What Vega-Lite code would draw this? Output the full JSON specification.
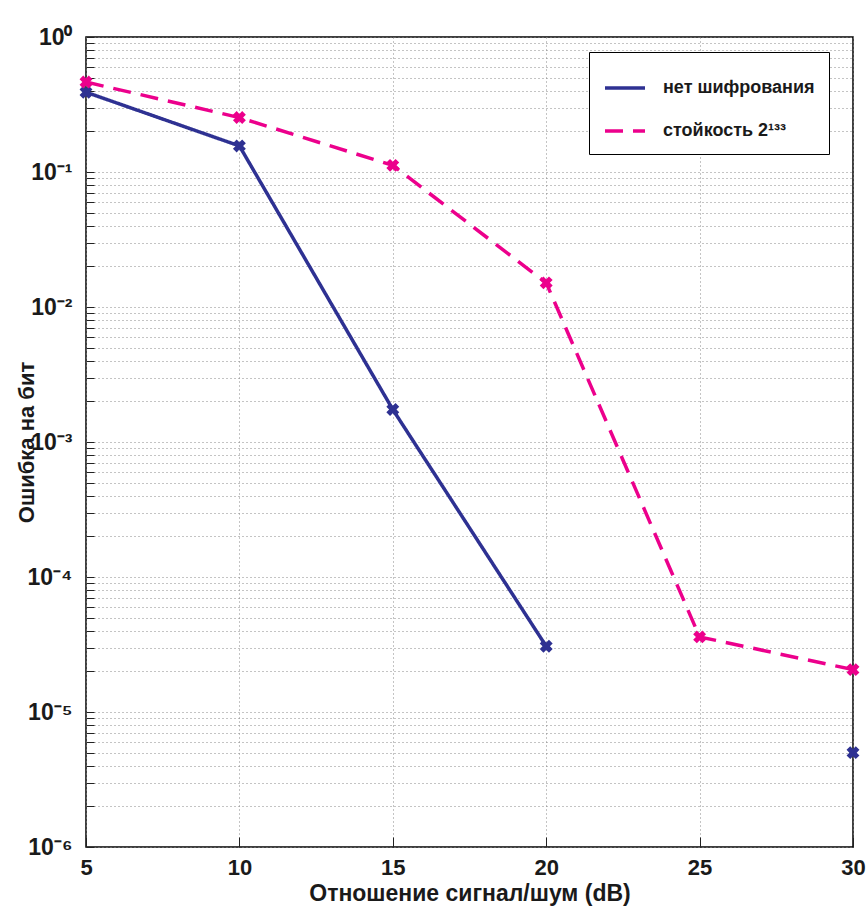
{
  "$schema": "https://vega.github.io/schema/vega-lite/v6.json",
  "width": 767,
  "height": 810,
  "autosize": {"type": "none"},
  "padding": {"left": 86, "top": 37, "right": 15, "bottom": 74},
  "background": "white",
  "config": {
    "view": {"stroke": "black", "strokeWidth": 1.5},
    "font": "Liberation Sans, Arial, sans-serif"
  },
  "data": {
    "values": [
      {"snr": 5, "ber": 0.39, "series": "нет шифрования"},
      {"snr": 10, "ber": 0.156, "series": "нет шифрования"},
      {"snr": 15, "ber": 0.00174, "series": "нет шифрования"},
      {"snr": 20, "ber": 0.0000307, "series": "нет шифрования"},
      {"snr": 25, "ber": null, "series": "нет шифрования"},
      {"snr": 30, "ber": 0.000005, "series": "нет шифрования"},
      {"snr": 5, "ber": 0.464, "series": "стойкость 2¹³³"},
      {"snr": 10, "ber": 0.253, "series": "стойкость 2¹³³"},
      {"snr": 15, "ber": 0.112, "series": "стойкость 2¹³³"},
      {"snr": 20, "ber": 0.0151, "series": "стойкость 2¹³³"},
      {"snr": 25, "ber": 0.000036, "series": "стойкость 2¹³³"},
      {"snr": 30, "ber": 0.0000206, "series": "стойкость 2¹³³"}
    ]
  },
  "encoding": {
    "x": {
      "field": "snr", "type": "quantitative",
      "scale": {"domain": [5, 30], "nice": false, "zero": false},
      "axis": {
        "values": [5, 10, 15, 20, 25, 30],
        "title": "Отношение сигнал/шум (dB)",
        "titleFontSize": 23, "titleFontWeight": "bold", "titleColor": "#1a1a1a",
        "titlePadding": 4,
        "labelFontSize": 22, "labelFontWeight": "bold", "labelColor": "#1a1a1a",
        "labelPadding": 20,
        "labelFlush": false,
        "domain": false,
        "ticks": true, "tickSize": -10, "tickColor": "#222", "tickWidth": 1,
        "grid": true, "gridColor": "#888", "gridDash": [1, 3], "gridWidth": 1
      }
    },
    "y": {
      "field": "ber", "type": "quantitative",
      "scale": {"type": "log", "domain": [0.000001, 1], "nice": false},
      "axis": {
        "values": [0.000001,0.000002,0.000003,0.000004,0.000005,0.000006,0.000007,0.000008,0.000009,
                   0.00001,0.00002,0.00003,0.00004,0.00005,0.00006,0.00007,0.00008,0.00009,
                   0.0001,0.0002,0.0003,0.0004,0.0005,0.0006,0.0007,0.0008,0.0009,
                   0.001,0.002,0.003,0.004,0.005,0.006,0.007,0.008,0.009,
                   0.01,0.02,0.03,0.04,0.05,0.06,0.07,0.08,0.09,
                   0.1,0.2,0.3,0.4,0.5,0.6,0.7,0.8,0.9,1],
        "labelExpr": "abs(log(datum.value)/LN10 - round(log(datum.value)/LN10)) < 0.001 ? (round(log(datum.value)/LN10) == 0 ? '10⁰' : '10⁻' + ['','¹','²','³','⁴','⁵','⁶'][-round(log(datum.value)/LN10)]) : ''",
        "title": "Ошибка на бит",
        "titleFontSize": 22, "titleFontWeight": "bold", "titleColor": "#1a1a1a",
        "titleX": -60, "titleY": 405, "titleAngle": -90,
        "titleAlign": "center", "titleBaseline": "middle",
        "labelFontSize": 23, "labelFontWeight": "bold", "labelColor": "#1a1a1a",
        "labelPadding": 22,
        "labelFlush": false,
        "labelOverlap": false,
        "domain": false,
        "ticks": true, "tickSize": -8, "tickColor": "#222", "tickWidth": 1,
        "grid": true, "gridColor": "#888", "gridDash": [1, 3], "gridWidth": 1
      }
    },
    "color": {
      "field": "series", "type": "nominal",
      "scale": {"domain": ["нет шифрования", "стойкость 2¹³³"], "range": ["#2E3192", "#EC008C"]},
      "legend": {
        "title": null,
        "orient": "none",
        "legendX": 503,
        "legendY": 15,
        "symbolType": "stroke",
        "symbolSize": 1600,
        "symbolStrokeWidth": 3.5,
        "labelFontSize": 18,
        "labelFontWeight": "bold",
        "labelColor": "#1a1a1a",
        "labelLimit": 300,
        "rowPadding": 12,
        "padding": 14,
        "strokeColor": "black",
        "fillColor": "white",
        "labelOffset": 16
      }
    }
  },
  "layer": [
    {
      "mark": {"type": "line", "strokeWidth": 3.5, "invalid": "break-paths-show-domains", "clip": true},
      "encoding": {
        "strokeDash": {
          "field": "series", "type": "nominal",
          "scale": {"domain": ["нет шифрования", "стойкость 2¹³³"], "range": [[1, 0], [18, 10]]},
          "legend": null
        }
      }
    },
    {
      "mark": {"type": "point", "shape": "cross", "angle": 45, "filled": true, "size": 170, "opacity": 1, "clip": false},
      "encoding": {}
    }
  ]
}
